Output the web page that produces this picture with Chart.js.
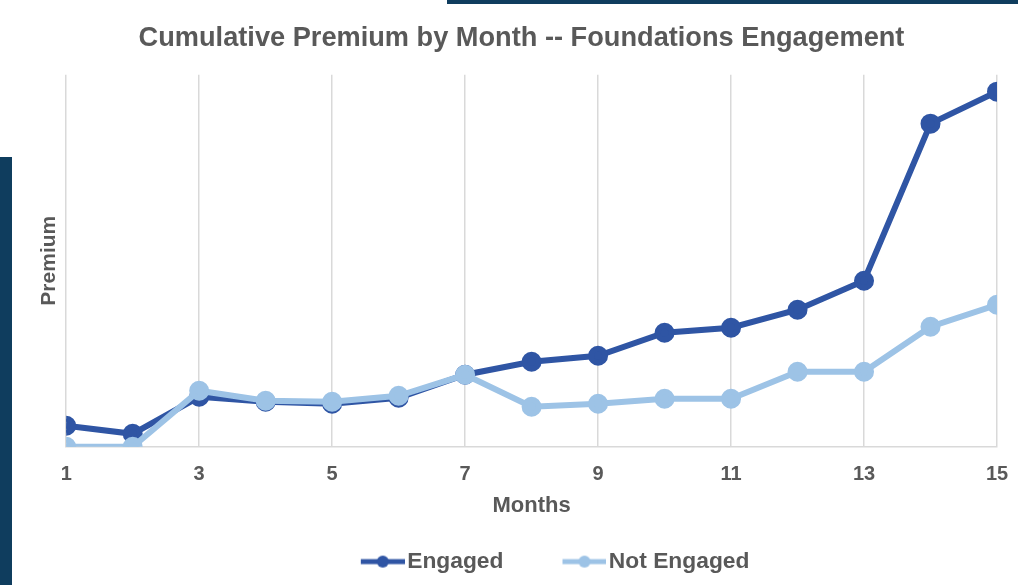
<!DOCTYPE html>
<html>
<head>
<meta charset="utf-8">
<script src="https://cdn.jsdelivr.net/npm/chart.js@4/dist/chart.umd.min.js"></script>
<style>
  html, body { margin: 0; padding: 0; background: #fff; }
  #wrap { position: relative; width: 1018px; height: 585px; overflow: hidden; }
  .bar-left { position: absolute; left: 0; top: 157px; width: 12px; height: 428px; background: #0f3d5e; }
  .bar-top { position: absolute; left: 447px; top: 0; width: 571px; height: 4px; background: #0f3d5e; }
  canvas { position: absolute; left: 0; top: 0; }
</style>
</head>
<body>
<div id="wrap">
  <div class="bar-left"></div>
  <div class="bar-top"></div>
  <canvas id="premium-chart" width="1018" height="585"></canvas>
</div>
<script>
// Months and cumulative premium (relative units)
const months = [1, 2, 3, 4, 5, 6, 7, 8, 9, 10, 11, 12, 13, 14, 15];
const engaged = [21, 13, 50, 45, 43, 49, 72, 85, 91, 114, 119, 137, 166, 323, 355];
const notEngaged = [0, 0, 56, 46, 45, 51, 72, 40, 43, 48, 48, 75, 75, 120, 142];
const xTicks = [1, 3, 5, 7, 9, 11, 13, 15];

const darkBlue = '#2f55a4';
const lightBlue = '#9dc3e6';
const grey = '#595959';
const font = 'Liberation Sans, Arial';

// line-with-dot marker for the legend; blank space on the left keeps the
// items apart, the line sticks out a little on the right towards the text
const MARK_BOX = 82;
function legendMarker(color) {
  const c = document.createElement('canvas');
  c.width = MARK_BOX + 18; c.height = 16;
  const g = c.getContext('2d');
  const x0 = c.width - 44;
  g.strokeStyle = color;
  g.lineWidth = 5;
  g.beginPath(); g.moveTo(x0, 8); g.lineTo(c.width, 8); g.stroke();
  g.fillStyle = color;
  g.beginPath(); g.arc(x0 + 22, 8, 6, 0, Math.PI * 2); g.fill();
  return c;
}

const toPoints = arr => arr.map((v, i) => ({ x: months[i], y: v }));

const ctx = document.getElementById('premium-chart').getContext('2d');
const premiumChart = new Chart(ctx, {
  type: 'line',
  data: {
    datasets: [{
      label: 'Engaged',
      data: toPoints(engaged),
      borderColor: darkBlue,
      backgroundColor: darkBlue,
      borderWidth: 6,
      pointRadius: 7,
      pointHoverRadius: 7,
      tension: 0,
      order: 1
    }, {
      label: 'Not Engaged',
      data: toPoints(notEngaged),
      borderColor: lightBlue,
      backgroundColor: lightBlue,
      borderWidth: 6,
      pointRadius: 7,
      pointHoverRadius: 7,
      tension: 0,
      order: 0
    }]
  },
  options: {
    responsive: false,
    animation: false,
    layout: { padding: { left: 25, right: 0, top: 8, bottom: 2 } },
    scales: {
      x: {
        type: 'linear',
        min: 1,
        max: 15,
        afterBuildTicks: axis => { axis.ticks = xTicks.map(v => ({ value: v })); },
        afterFit: axis => { axis.paddingRight = 21; },
        ticks: { color: grey, font: { family: font, size: 20, weight: 'bold' }, padding: 16 },
        grid: { color: '#d9d9d9', lineWidth: 1.5, drawTicks: false },
        border: { display: true, color: '#d9d9d9', width: 1.5 },
        title: {
          display: true, text: 'Months', color: grey,
          font: { family: font, size: 22, weight: 'bold' },
          padding: { top: -10, bottom: 19 }
        }
      },
      y: {
        min: 0,
        max: 372,
        ticks: { display: false },
        grid: { display: false },
        border: { display: false },
        title: {
          display: true, text: 'Premium', color: grey,
          font: { family: font, size: 21, weight: 'bold' },
          padding: { top: 12, bottom: -4 }
        }
      }
    },
    plugins: {
      title: {
        display: true,
        text: 'Cumulative Premium by Month -- Foundations Engagement',
        color: grey,
        font: { family: font, size: 27.2, weight: 'bold' },
        padding: { top: 14, bottom: 20 }
      },
      legend: {
        position: 'bottom',
        fullSize: false,
        labels: {
          usePointStyle: true,
          pointStyleWidth: MARK_BOX,
          padding: 12,
          color: grey,
          font: { family: font, size: 22.8, weight: 'bold' },
          sort: (a, b) => a.datasetIndex - b.datasetIndex,
          generateLabels: chart => {
            const items = Chart.defaults.plugins.legend.labels.generateLabels(chart);
            items.forEach(it => {
              it.pointStyle = legendMarker(chart.data.datasets[it.datasetIndex].borderColor);
            });
            return items;
          }
        }
      },
      tooltip: { enabled: false }
    }
  }
});
</script>
</body>
</html>
